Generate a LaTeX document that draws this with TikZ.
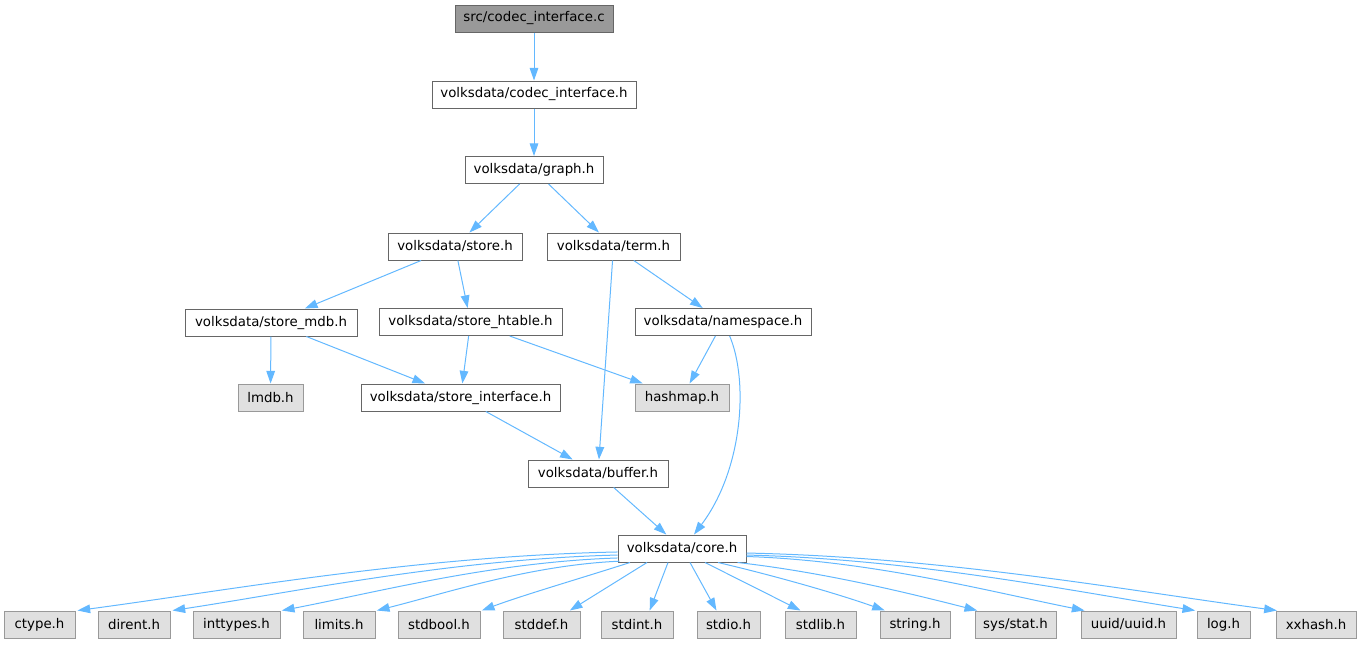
\documentclass[tikz,border=0pt]{standalone}
\usepackage{fontspec}
\setmainfont{DejaVu Sans}
\usetikzlibrary{arrows.meta}
\definecolor{edgec}{HTML}{63B8FF}
\definecolor{bordw}{HTML}{666666}
\definecolor{bordg}{HTML}{999999}
\definecolor{fillg}{HTML}{E0E0E0}
\definecolor{fillr}{HTML}{999999}
\tikzset{
  nbox/.style={draw=bordw, fill=white, line width=0.75pt, minimum height=20.25pt, inner sep=0pt, font=\fontsize{10pt}{12pt}\selectfont, text=black},
  gbox/.style={nbox, draw=bordg, fill=fillg},
  rbox/.style={nbox, draw=bordw, fill=fillr},
  edge/.style={draw=edgec, line width=0.75pt, -{Triangle[length=9.5pt,width=6.5pt]}}
}
\begin{document}
\begin{tikzpicture}[x=0.75pt,y=-0.75pt]
\useasboundingbox (0,0) rectangle (1363,644);
% nodes
\node[rbox, minimum width=118.5pt] (root) at (534,18.5) {src/codec\_interface.c};
\node[nbox, minimum width=153pt] (codec) at (534,94.5) {volksdata/codec\_interface.h};
\node[nbox, minimum width=103.5pt] (graph) at (534,170) {volksdata/graph.h};
\node[nbox, minimum width=100.5pt] (store) at (455,246.5) {volksdata/store.h};
\node[nbox, minimum width=99.75pt] (term) at (613.5,246.5) {volksdata/term.h};
\node[nbox, minimum width=129pt] (mdb) at (271,322.5) {volksdata/store\_mdb.h};
\node[nbox, minimum width=137.25pt] (htable) at (470.5,322) {volksdata/store\_htable.h};
\node[nbox, minimum width=132pt] (ns) at (723,322) {volksdata/namespace.h};
\node[gbox, minimum width=48.75pt] (lmdb) at (270.5,397.5) {lmdb.h};
\node[nbox, minimum width=149.25pt] (si) at (460.5,397.5) {volksdata/store\_interface.h};
\node[gbox, minimum width=70.5pt] (hashmap) at (682,397.5) {hashmap.h};
\node[nbox, minimum width=105pt] (buffer) at (598,473.5) {volksdata/buffer.h};
\node[nbox, minimum width=96pt] (core) at (682,548.5) {volksdata/core.h};
% bottom row
\node[gbox, minimum width=53.25pt] (ctype) at (39.5,624.5) {ctype.h};
\node[gbox, minimum width=54pt] (dirent) at (134,624.5) {dirent.h};
\node[gbox, minimum width=65.25pt] (inttypes) at (236.5,624.5) {inttypes.h};
\node[gbox, minimum width=54pt] (limits) at (339,624.5) {limits.h};
\node[gbox, minimum width=61.5pt] (stdbool) at (439,624.5) {stdbool.h};
\node[gbox, minimum width=57.75pt] (stddef) at (541.5,624.5) {stddef.h};
\node[gbox, minimum width=54pt] (stdint) at (637,624.5) {stdint.h};
\node[gbox, minimum width=47.25pt] (stdio) at (728.5,624.5) {stdio.h};
\node[gbox, minimum width=53.25pt] (stdlib) at (820.5,624.5) {stdlib.h};
\node[gbox, minimum width=52.5pt] (string) at (915,624.5) {string.h};
\node[gbox, minimum width=60.75pt] (sysstat) at (1015.5,624.5) {sys/stat.h};
\node[gbox, minimum width=71.25pt] (uuid) at (1128.5,624.5) {uuid/uuid.h};
\node[gbox, minimum width=39.75pt] (log) at (1223.5,624.5) {log.h};
\node[gbox, minimum width=60pt] (xxhash) at (1316,624.5) {xxhash.h};
% edges
\draw[edge] (root) -- (codec);
\draw[edge] (codec) -- (graph);
\draw[edge] (graph) -- (store);
\draw[edge] (graph) -- (term);
\draw[edge] (store) -- (mdb);
\draw[edge] (store) -- (htable);
\draw[edge] (term) -- (buffer);
\draw[edge] (term) -- (ns);
\draw[edge] (mdb) -- (lmdb);
\draw[edge] (mdb) -- (si);
\draw[edge] (htable) -- (si);
\draw[edge] (htable) -- (hashmap);
\draw[edge] (ns) -- (hashmap);
\draw[edge] ([xshift=5pt]ns.south) .. controls +(19,45) and +(49,-65) .. ([xshift=9pt]core.north);
\draw[edge] (si) -- (buffer);
\draw[edge] (buffer) -- (core);
% fan-out from core
\draw[edge] ([yshift=-2.6pt]core.west) .. controls +(-200,4) and +(150,-20) .. ([xshift=1.5pt]ctype.north east);
\draw[edge] ([yshift=-4.9pt]core.west) .. controls +(-165,4) and +(125,-19) .. ([xshift=1.5pt]dirent.north east);
\draw[edge] ([yshift=-7.1pt]core.west) .. controls +(-125,4) and +(94,-18) .. ([xshift=1pt]inttypes.north east);
\draw[edge] ([xshift=1.5pt,yshift=1pt]core.south west) .. controls +(-90,4) and +(68,-17) .. ([xshift=1pt]limits.north east);
\draw[edge] ([xshift=-39pt]core.south) .. controls +(-50,16) and +(40,-15) .. ([xshift=1pt]stdbool.north east);
\draw[edge] ([xshift=-26.25pt]core.south) -- ([xshift=-8pt]stddef.north east);
\draw[edge] ([xshift=-10.5pt]core.south) -- ([xshift=9.5pt]stdint.north);
\draw[edge] ([xshift=6pt]core.south) -- ([xshift=-9pt]stdio.north);
\draw[edge] ([xshift=17.25pt]core.south) -- ([xshift=-15pt]stdlib.north);
\draw[edge] ([xshift=27pt]core.south) .. controls +(60,14) and +(-45,-16) .. ([xshift=4pt]string.north west);
\draw[edge] ([xshift=-6.75pt]core.south east) .. controls +(88,10) and +(-67,-17) .. ([xshift=2pt]sysstat.north west);
\draw[edge] ([yshift=-6pt]core.east) .. controls +(125,4) and +(-95,-19) .. ([xshift=3pt]uuid.north west);
\draw[edge] ([yshift=-4.9pt]core.east) .. controls +(167,4) and +(-126,-20) .. ([xshift=-1pt]log.north west);
\draw[edge] ([yshift=-3.4pt]core.east) .. controls +(197,4) and +(-149,-20) .. ([xshift=1pt]xxhash.north west);
\end{tikzpicture}
\end{document}
